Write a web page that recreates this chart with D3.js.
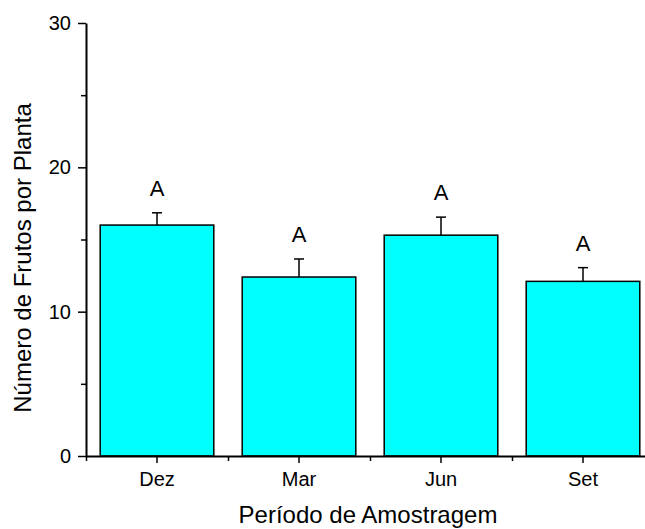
<!DOCTYPE html>
<html>
<head>
<meta charset="utf-8">
<script src="https://cdn.jsdelivr.net/npm/d3@7"></script>
<style>
  body { margin: 0; background: #fff; }
  svg { display: block; font-family: "Liberation Sans", Arial, sans-serif; }
</style>
</head>
<body>
<div id="chart"></div>
<script>
// chart data
var periods = ['Dez', 'Mar', 'Jun', 'Set'];
var frutos = [16.0, 12.4, 15.3, 12.1];
var erros = [0.85, 1.25, 1.25, 0.95];
var letras = ['A', 'A', 'A', 'A'];
var yTicks = [0, 10, 20, 30];
var yMinor = [5, 15, 25];

var width = 645, height = 529;

var svg = d3.select('#chart').append('svg')
  .attr('width', width)
  .attr('height', height);

var x = d3.scaleBand()
  .domain(periods)
  .range([86, 654])
  .paddingInner(0.2)
  .paddingOuter(0.1);

var y = d3.scaleLinear()
  .domain([0, 30])
  .range([456, 23]);

// bars
svg.selectAll('rect.bar').data(periods).enter().append('rect')
  .attr('class', 'bar')
  .attr('x', function(d) { return x(d); })
  .attr('y', function(d, i) { return y(frutos[i]); })
  .attr('width', x.bandwidth())
  .attr('height', function(d, i) { return y(0) - y(frutos[i]); })
  .style('fill', '#00ffff')
  .style('stroke', '#000')
  .style('stroke-width', 1.5);

// error bars (upper only)
var eb = svg.selectAll('g.err').data(periods).enter().append('g').attr('class', 'err');
eb.append('line')
  .attr('x1', function(d) { return x(d) + x.bandwidth() / 2; })
  .attr('x2', function(d) { return x(d) + x.bandwidth() / 2; })
  .attr('y1', function(d, i) { return y(frutos[i]); })
  .attr('y2', function(d, i) { return y(frutos[i] + erros[i]); })
  .style('stroke', '#000').style('stroke-width', 1.5);
eb.append('line')
  .attr('x1', function(d) { return x(d) + x.bandwidth() / 2 - 5; })
  .attr('x2', function(d) { return x(d) + x.bandwidth() / 2 + 5; })
  .attr('y1', function(d, i) { return y(frutos[i] + erros[i]); })
  .attr('y2', function(d, i) { return y(frutos[i] + erros[i]); })
  .style('stroke', '#000').style('stroke-width', 1.5);

// letters
svg.selectAll('text.letra').data(periods).enter().append('text')
  .attr('class', 'letra')
  .attr('x', function(d) { return x(d) + x.bandwidth() / 2; })
  .attr('y', function(d, i) { return y(frutos[i] + erros[i]) - 17; })
  .attr('text-anchor', 'middle')
  .style('font-size', '22px')
  .text(function(d, i) { return letras[i]; });

// y axis
svg.append('g')
  .attr('transform', 'translate(86,0)')
  .call(d3.axisLeft(y).tickValues(yTicks).tickSize(8).tickPadding(7).tickSizeOuter(0));
svg.append('g')
  .attr('transform', 'translate(86,0)')
  .call(d3.axisLeft(y).tickValues(yMinor).tickSize(5).tickFormat('').tickSizeOuter(0))
  .select('.domain').remove();

// x axis
svg.append('g')
  .attr('transform', 'translate(0,456)')
  .call(d3.axisBottom(x).tickSize(7).tickPadding(9).tickSizeOuter(0));
var bounds = periods.map(function(d) { return x(d) - x.step() * x.paddingInner() / 2; });
svg.append('g')
  .attr('transform', 'translate(0,456)')
  .call(d3.axisBottom(d3.scaleLinear().domain([86, 654]).range([86, 654]))
    .tickValues(bounds).tickSize(5).tickFormat('').tickSizeOuter(0))
  .select('.domain').remove();

svg.selectAll('.domain').style('stroke-width', 2);
svg.selectAll('.tick line').style('stroke-width', 1.5);
svg.selectAll('.tick text')
  .style('font-size', '20px')
  .style('font-family', '"Liberation Sans", Arial, sans-serif')
  .attr('fill', '#000');

// axis titles
svg.append('text')
  .attr('x', 368)
  .attr('y', 523)
  .attr('text-anchor', 'middle')
  .style('font-size', '24px')
  .text('Período de Amostragem');

svg.append('text')
  .attr('transform', 'translate(31,258) rotate(-90)')
  .attr('text-anchor', 'middle')
  .style('font-size', '24px')
  .text('Número de Frutos por Planta');
</script>
</body>
</html>
